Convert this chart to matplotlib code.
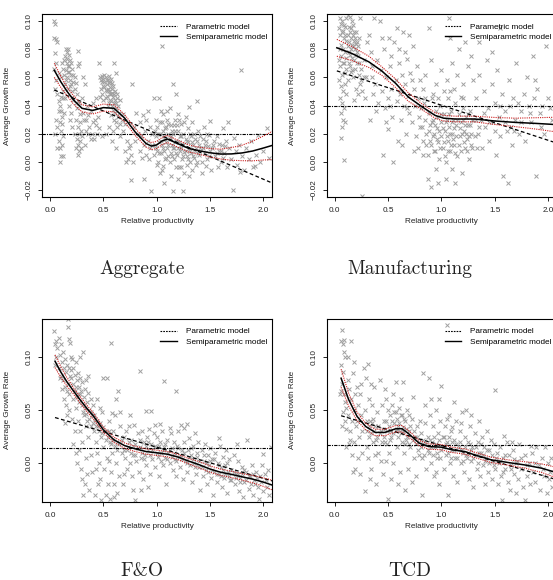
import matplotlib
matplotlib.use("Agg")
import matplotlib.pyplot as plt
from matplotlib.lines import Line2D

plt.rcParams['font.family'] = ['Liberation Sans', 'DejaVu Sans']

# ---------------- Aggregate ----------------
agg_points = [
    (0.04, 0.100), (0.05, 0.098), (0.04, 0.088), (0.06, 0.087), (0.07, 0.085), (0.05, 0.077), (0.06, 0.070),
    (0.04, 0.066), (0.08, 0.063), (0.06, 0.058), (0.05, 0.052), (0.07, 0.048), (0.08, 0.043), (0.09, 0.040),
    (0.10, 0.036), (0.08, 0.036), (0.11, 0.032), (0.09, 0.028), (0.07, 0.025), (0.10, 0.022), (0.12, 0.018),
    (0.08, 0.015), (0.11, 0.012), (0.09, 0.010), (0.10, 0.004), (0.09, 0.000), (0.12, 0.004), (0.11, 0.027),
    (0.13, 0.035), (0.12, 0.045), (0.14, 0.055), (0.10, 0.060), (0.12, 0.066), (0.13, 0.072), (0.11, 0.070),
    (0.06, 0.030), (0.05, 0.020), (0.07, 0.010),
    (0.15, 0.080), (0.16, 0.078), (0.17, 0.080), (0.18, 0.076), (0.16, 0.073), (0.19, 0.072), (0.17, 0.068),
    (0.20, 0.070), (0.15, 0.065), (0.18, 0.064), (0.21, 0.066), (0.16, 0.060), (0.19, 0.058), (0.22, 0.062),
    (0.20, 0.055), (0.23, 0.060), (0.17, 0.052), (0.21, 0.050), (0.24, 0.056), (0.26, 0.079), (0.27, 0.070),
    (0.26, 0.068), (0.25, 0.048), (0.22, 0.044), (0.27, 0.042), (0.25, 0.038), (0.28, 0.034), (0.24, 0.030),
    (0.26, 0.025), (0.27, 0.020), (0.25, 0.016), (0.26, 0.012), (0.27, 0.008), (0.26, 0.005), (0.24, 0.010),
    (0.28, 0.015), (0.23, 0.020), (0.29, 0.022), (0.20, 0.035), (0.18, 0.040), (0.14, 0.045), (0.21, 0.025),
    (0.19, 0.030),
    (0.14, 0.075), (0.16, 0.070), (0.18, 0.068), (0.20, 0.062), (0.22, 0.057), (0.13, 0.062), (0.15, 0.058),
    (0.17, 0.064), (0.19, 0.054), (0.23, 0.052), (0.21, 0.046), (0.24, 0.042), (0.12, 0.050), (0.10, 0.046),
    (0.28, 0.028), (0.29, 0.010), (0.30, 0.018), (0.31, 0.035), (0.34, 0.030), (0.36, 0.020),
    (0.31, 0.060), (0.33, 0.055), (0.35, 0.040), (0.32, 0.030), (0.36, 0.033), (0.38, 0.036), (0.34, 0.022),
    (0.37, 0.025), (0.40, 0.028), (0.42, 0.030), (0.39, 0.020), (0.41, 0.016), (0.44, 0.020), (0.43, 0.026),
    (0.45, 0.032), (0.43, 0.045), (0.40, 0.042), (0.38, 0.016), (0.30, 0.045), (0.33, 0.012),
    (0.46, 0.070), (0.47, 0.060), (0.48, 0.058), (0.49, 0.061), (0.50, 0.059), (0.51, 0.057), (0.52, 0.060),
    (0.53, 0.055), (0.54, 0.058), (0.55, 0.056), (0.56, 0.053), (0.57, 0.059), (0.58, 0.052), (0.60, 0.070),
    (0.62, 0.063), (0.50, 0.054), (0.52, 0.051), (0.55, 0.050), (0.57, 0.048), (0.59, 0.046), (0.61, 0.050),
    (0.63, 0.045), (0.48, 0.052), (0.53, 0.047), (0.56, 0.044), (0.60, 0.042), (0.64, 0.040), (0.66, 0.044),
    (0.62, 0.038), (0.58, 0.040), (0.50, 0.044), (0.47, 0.046), (0.54, 0.040), (0.65, 0.035), (0.67, 0.030),
    (0.60, 0.030), (0.55, 0.025), (0.52, 0.020), (0.58, 0.015), (0.62, 0.010), (0.49, 0.018), (0.46, 0.024),
    (0.57, 0.033), (0.63, 0.025), (0.68, 0.022), (0.70, 0.027), (0.66, 0.018), (0.59, 0.022),
    (0.49, 0.057), (0.51, 0.062), (0.53, 0.058), (0.55, 0.061), (0.56, 0.057), (0.58, 0.056), (0.59, 0.054),
    (0.51, 0.053), (0.53, 0.050), (0.54, 0.052), (0.56, 0.048), (0.58, 0.049), (0.60, 0.048), (0.61, 0.044),
    (0.62, 0.042), (0.63, 0.048), (0.57, 0.043), (0.55, 0.042), (0.52, 0.045), (0.49, 0.048), (0.59, 0.037),
    (0.61, 0.035), (0.64, 0.032), (0.66, 0.027), (0.68, 0.034), (0.62, 0.028),
    (0.72, 0.015), (0.74, 0.010), (0.70, 0.008), (0.76, 0.005), (0.73, 0.002), (0.78, 0.000), (0.75, 0.012),
    (0.80, 0.015), (0.82, 0.020), (0.79, 0.025), (0.84, 0.008), (0.86, 0.003), (0.88, 0.012), (0.85, 0.018),
    (0.89, 0.022), (0.87, 0.033), (0.90, 0.030), (0.84, 0.028), (0.77, 0.055), (0.76, -0.013), (0.88, -0.012),
    (0.81, 0.035), (0.71, 0.000), (0.90, 0.005), (0.92, 0.036), (0.92, 0.015), (0.94, 0.010), (0.93, 0.002),
    (0.95, -0.021), (0.97, 0.045), (1.02, 0.045), (1.05, 0.082), (0.94, 0.025), (0.96, 0.020),
    (0.97, 0.005), (0.98, 0.012), (0.99, 0.018), (1.00, 0.008), (1.00, 0.025), (1.01, 0.000), (1.02, 0.014),
    (1.03, 0.020), (1.04, 0.006), (1.05, 0.028), (1.05, 0.012), (1.06, -0.003), (1.07, 0.018), (1.07, 0.008),
    (1.08, 0.024), (1.09, 0.003), (1.09, 0.014), (1.10, 0.030), (1.10, 0.010), (1.11, 0.020), (1.12, 0.000),
    (1.12, 0.016), (1.13, 0.006), (1.13, 0.026), (1.14, 0.012), (1.15, 0.055), (1.15, 0.020), (1.16, 0.002),
    (1.16, 0.010), (1.17, 0.030), (1.18, 0.015), (1.18, 0.048), (1.19, 0.005), (1.20, 0.022), (1.20, 0.010),
    (1.21, -0.004), (1.22, 0.018), (1.22, 0.008), (1.23, 0.027), (1.24, 0.013), (1.24, 0.002), (1.25, 0.020),
    (1.26, 0.007), (1.26, -0.008), (1.27, 0.032), (1.28, 0.015), (1.28, 0.004), (1.29, 0.024), (1.30, 0.010),
    (1.30, 0.039), (1.31, 0.000), (1.32, 0.018), (1.32, 0.006), (1.33, 0.028), (1.34, 0.012), (1.35, 0.003),
    (1.35, 0.020), (1.36, 0.008), (1.37, -0.002), (1.38, 0.043), (1.38, 0.015), (1.39, 0.022), (1.40, 0.005),
    (1.40, 0.012), (1.41, 0.018), (1.42, 0.000), (1.43, 0.010), (1.44, 0.025), (1.45, 0.006), (1.46, 0.015),
    (1.47, 0.002), (1.48, 0.011), (1.49, 0.019), (1.50, 0.029), (1.50, 0.008), (1.51, -0.006), (1.07, -0.015),
    (1.15, -0.021), (1.25, -0.021), (1.20, -0.012), (1.30, -0.010), (1.03, -0.008), (1.13, -0.010),
    (1.23, -0.004), (1.33, -0.006), (1.42, -0.008), (0.99, 0.030), (1.04, 0.036), (1.12, 0.038),
    (1.00, -0.002), (1.11, 0.004), (1.06, 0.034),
    (0.99, 0.010), (1.01, 0.020), (1.02, 0.006), (1.03, 0.028), (1.04, 0.015), (1.06, 0.022), (1.06, 0.010),
    (1.08, 0.016), (1.08, 0.002), (1.09, 0.025), (1.11, 0.012), (1.11, 0.027), (1.13, 0.018), (1.14, 0.004),
    (1.14, 0.022), (1.15, 0.010), (1.17, 0.014), (1.17, 0.022), (1.18, 0.006), (1.19, 0.026), (1.21, 0.014),
    (1.21, 0.030), (1.23, 0.010), (1.23, 0.018), (1.25, 0.004), (1.25, 0.012), (1.27, 0.016), (1.27, 0.008),
    (1.29, 0.002), (1.29, 0.014), (1.31, 0.020), (1.31, 0.008), (1.33, 0.014), (1.34, 0.004), (1.36, 0.016),
    (1.37, 0.010), (1.39, 0.006), (1.41, 0.010), (1.43, 0.016), (1.45, 0.012), (1.47, 0.020), (1.49, 0.004),
    (1.52, 0.010), (1.54, 0.015), (1.56, 0.006), (1.58, 0.013), (1.60, 0.008), (1.62, 0.003), (1.64, 0.011),
    (1.10, 0.036), (1.16, 0.026), (1.20, 0.034), (1.26, 0.028), (1.05, -0.006), (1.18, -0.004),
    (1.28, -0.002), (1.38, 0.000), (1.46, -0.003), (0.98, 0.022), (0.96, 0.012),
    (1.53, 0.012), (1.55, 0.004), (1.56, 0.018), (1.58, 0.008), (1.60, 0.000), (1.61, 0.012), (1.62, 0.024),
    (1.63, 0.006), (1.65, 0.015), (1.66, -0.004), (1.68, 0.010), (1.70, 0.002), (1.71, -0.020), (1.72, 0.017),
    (1.74, 0.008), (1.75, -0.002), (1.77, 0.012), (1.79, 0.065), (1.80, 0.004), (1.82, -0.006), (1.84, 0.010),
    (1.86, 0.002), (1.88, 0.015), (1.90, -0.004), (1.93, 0.005), (1.95, 0.019), (1.97, 0.000), (2.00, 0.008),
    (2.03, 0.024), (2.05, 0.003), (1.78, -0.007), (1.92, -0.003), (1.67, 0.028), (1.57, -0.004),
]
agg_cx = [0.04, 0.10, 0.16, 0.22, 0.30, 0.40, 0.50, 0.60, 0.70, 0.80, 0.90, 0.95, 1.00, 1.05, 1.10, 1.20,
          1.30, 1.40, 1.50, 1.60, 1.70, 1.80, 1.90, 2.00, 2.08]
agg_fit = [0.065, 0.057, 0.050, 0.044, 0.038, 0.0365, 0.0385, 0.038, 0.031, 0.021, 0.013, 0.0112, 0.012,
           0.0148, 0.0162, 0.0128, 0.0095, 0.0078, 0.0064, 0.0055, 0.0056, 0.0063, 0.0077, 0.0098, 0.0116]
agg_up = [0.070, 0.061, 0.053, 0.047, 0.0405, 0.039, 0.041, 0.0405, 0.0335, 0.0235, 0.0155, 0.0137, 0.0145,
          0.0173, 0.0187, 0.0153, 0.012, 0.0103, 0.0094, 0.009, 0.0101, 0.0118, 0.0147, 0.0183, 0.0216]
agg_lo = [0.060, 0.053, 0.047, 0.041, 0.0355, 0.034, 0.036, 0.0355, 0.0285, 0.0185, 0.0105, 0.0087, 0.0095,
          0.0123, 0.0137, 0.0103, 0.007, 0.0053, 0.0034, 0.002, 0.0011, 0.0008, 0.0007, 0.0013, 0.0016]
agg_par_x = [0.04, 2.08]
agg_par_y = [0.051, -0.015]
agg_mean = 0.0195

# ---------------- Manufacturing ----------------
man_points = [
    (0.04, 0.095), (0.05, 0.090), (0.06, 0.098), (0.07, 0.100), (0.08, 0.093), (0.09, 0.088), (0.10, 0.096),
    (0.11, 0.102), (0.12, 0.090), (0.13, 0.085), (0.14, 0.092), (0.15, 0.088), (0.16, 0.083), (0.17, 0.090),
    (0.18, 0.086), (0.19, 0.080), (0.20, 0.084), (0.21, 0.078), (0.12, 0.104), (0.14, 0.103), (0.16, 0.100),
    (0.08, 0.080), (0.10, 0.078), (0.12, 0.082), (0.14, 0.076), (0.16, 0.074), (0.18, 0.072), (0.06, 0.075),
    (0.05, 0.068), (0.07, 0.062), (0.09, 0.070), (0.11, 0.066), (0.13, 0.070), (0.15, 0.064), (0.17, 0.060),
    (0.19, 0.066), (0.21, 0.070), (0.04, 0.058), (0.06, 0.054), (0.08, 0.050), (0.10, 0.055), (0.05, 0.045),
    (0.07, 0.042), (0.09, 0.038), (0.06, 0.035), (0.08, 0.030), (0.07, 0.025), (0.06, 0.017), (0.09, 0.001),
    (0.10, 0.028), (0.22, 0.075), (0.23, 0.062), (0.24, 0.055), (0.25, 0.058), (0.26, 0.050), (0.27, 0.072),
    (0.28, 0.045), (0.29, 0.060), (0.22, 0.048), (0.24, 0.102), (0.30, 0.085), (0.26, -0.024), (0.20, 0.052),
    (0.18, 0.044), (0.12, 0.058), (0.04, 0.072), (0.05, 0.080), (0.11, 0.048),
    (0.05, 0.102), (0.07, 0.092), (0.09, 0.097), (0.10, 0.090), (0.11, 0.086), (0.13, 0.096), (0.13, 0.078),
    (0.15, 0.080), (0.15, 0.095), (0.17, 0.082), (0.17, 0.097), (0.18, 0.092), (0.19, 0.088), (0.20, 0.092),
    (0.21, 0.085), (0.22, 0.082), (0.23, 0.088), (0.11, 0.074), (0.14, 0.068), (0.16, 0.065), (0.20, 0.076),
    (0.23, 0.070), (0.25, 0.066), (0.27, 0.060), (0.06, 0.083), (0.08, 0.070), (0.10, 0.063),
    (0.32, 0.090), (0.34, 0.078), (0.35, 0.060), (0.36, 0.048), (0.38, 0.055), (0.40, 0.072), (0.41, 0.042),
    (0.43, 0.065), (0.44, 0.050), (0.45, 0.005), (0.46, 0.080), (0.47, 0.038), (0.48, 0.060), (0.50, 0.045),
    (0.50, 0.023), (0.52, 0.068), (0.53, 0.052), (0.54, 0.032), (0.55, 0.000), (0.56, 0.085), (0.57, 0.058),
    (0.58, 0.043), (0.60, 0.070), (0.61, 0.048), (0.62, 0.030), (0.63, 0.062), (0.64, 0.092), (0.65, 0.040),
    (0.66, 0.055), (0.67, 0.020), (0.68, 0.073), (0.69, 0.047), (0.70, 0.035), (0.71, 0.063), (0.72, 0.028),
    (0.73, 0.082), (0.74, 0.052), (0.75, 0.040), (0.76, 0.018), (0.77, 0.068), (0.78, 0.045), (0.79, 0.032),
    (0.80, 0.058), (0.37, 0.102), (0.42, 0.100), (0.51, 0.088), (0.58, 0.095), (0.66, 0.078), (0.70, 0.090),
    (0.33, 0.030), (0.39, 0.036), (0.48, 0.028), (0.59, 0.015), (0.63, 0.012), (0.53, 0.075), (0.44, 0.088),
    (0.74, 0.008), (0.35, 0.068), (0.60, 0.080), (0.72, 0.058), (0.52, 0.040), (0.62, 0.050), (0.68, 0.038),
    (0.81, 0.038), (0.82, 0.025), (0.83, 0.015), (0.84, 0.042), (0.85, 0.030), (0.86, 0.020), (0.87, 0.005),
    (0.87, -0.012), (0.88, 0.035), (0.89, 0.026), (0.90, 0.012), (0.90, -0.018), (0.91, 0.045), (0.92, 0.030),
    (0.93, 0.020), (0.94, 0.008), (0.95, 0.036), (0.96, 0.024), (0.97, 0.014), (0.97, -0.015), (0.98, 0.002),
    (0.99, 0.040), (1.00, 0.028), (1.00, 0.018), (1.01, 0.010), (1.02, 0.034), (1.03, 0.022), (1.04, 0.000),
    (1.05, 0.030), (1.06, 0.015), (1.06, 0.045), (1.07, 0.025), (1.08, 0.008), (1.09, 0.036), (1.10, 0.020),
    (1.10, -0.005), (1.11, 0.030), (1.12, 0.012), (1.13, 0.042), (1.14, 0.026), (1.15, 0.004), (1.16, 0.034),
    (1.17, 0.018), (1.18, 0.028), (1.19, -0.008), (1.20, 0.038), (1.21, 0.022), (1.22, 0.010), (1.23, 0.032),
    (1.24, 0.016), (1.25, 0.026), (1.26, 0.002), (1.27, 0.036), (1.28, 0.020), (1.29, 0.010), (1.30, 0.030),
    (0.85, 0.062), (0.90, 0.072), (0.95, 0.055), (1.00, 0.065), (1.05, 0.058), (1.10, 0.070), (1.15, 0.062),
    (1.20, 0.055), (1.25, 0.068), (1.30, 0.058), (0.88, 0.095), (1.08, 0.088), (1.22, 0.085), (1.28, 0.075),
    (0.92, 0.048), (1.02, 0.050), (1.12, 0.052), (1.18, 0.046), (0.83, 0.052), (1.04, -0.012), (1.13, -0.015),
    (0.95, -0.005), (1.07, 0.102), (1.16, 0.080), (0.85, 0.045), (0.97, 0.045), (1.08, 0.050), (1.20, 0.045),
    (0.86, 0.012), (0.88, 0.022), (0.89, 0.015), (0.91, 0.028), (0.92, 0.018), (0.93, 0.008), (0.94, 0.026),
    (0.96, 0.016), (0.96, 0.032), (0.98, 0.022), (0.99, 0.010), (1.00, 0.034), (1.01, 0.024), (1.02, 0.014),
    (1.03, 0.004), (1.04, 0.028), (1.05, 0.018), (1.06, 0.008), (1.07, 0.034), (1.08, 0.020), (1.09, 0.012),
    (1.10, 0.028), (1.11, 0.016), (1.12, 0.024), (1.13, 0.006), (1.14, 0.018), (1.15, 0.030), (1.16, 0.012),
    (1.17, 0.024), (1.18, 0.008), (1.19, 0.020), (1.20, 0.030), (1.21, 0.014), (1.22, 0.026), (1.23, 0.020),
    (1.24, 0.008), (1.25, 0.034), (1.26, 0.018), (1.27, 0.026), (1.28, 0.012), (1.29, 0.030), (1.31, 0.018),
    (1.32, 0.030), (1.33, 0.010), (0.80, 0.025), (0.78, 0.010), (0.83, 0.005),
    (1.32, 0.045), (1.34, 0.020), (1.35, 0.062), (1.37, 0.030), (1.38, 0.010), (1.40, 0.050), (1.41, 0.025),
    (1.43, 0.072), (1.44, 0.038), (1.45, 0.015), (1.47, 0.055), (1.48, 0.028), (1.50, 0.042), (1.51, 0.005),
    (1.52, 0.065), (1.54, 0.032), (1.55, 0.018), (1.57, 0.048), (1.58, -0.010), (1.60, 0.036), (1.61, 0.022),
    (1.63, 0.058), (1.64, 0.040), (1.66, 0.012), (1.67, 0.045), (1.69, 0.030), (1.70, 0.070), (1.72, 0.042),
    (1.73, 0.020), (1.75, 0.036), (1.77, 0.048), (1.78, 0.015), (1.80, 0.060), (1.82, 0.040), (1.84, 0.028),
    (1.86, 0.075), (1.87, 0.045), (1.89, -0.010), (1.90, 0.052), (1.92, 0.035), (1.94, 0.040), (1.96, 0.020),
    (1.98, 0.082), (2.00, 0.045), (2.02, 0.038), (2.04, 0.030), (1.88, 0.058), (1.62, -0.015), (1.55, 0.095),
    (1.35, 0.085), (1.47, 0.078), (1.65, 0.025), (1.35, 0.025), (1.40, 0.035), (1.45, 0.028), (1.50, 0.022),
    (1.55, 0.040), (1.60, 0.028), (1.68, 0.022), (1.75, 0.028), (1.83, 0.035), (1.93, 0.025),
]
man_cx = [0.02, 0.16, 0.32, 0.44, 0.57, 0.69, 0.82, 0.94, 1.02, 1.13, 1.31, 1.50, 1.69, 1.88, 2.04, 2.08]
man_fit = [0.081, 0.077, 0.071, 0.0646, 0.0558, 0.046, 0.039, 0.033, 0.031, 0.0304, 0.0304, 0.029, 0.028,
           0.0273, 0.0266, 0.0264]
man_up = [0.087, 0.082, 0.075, 0.0676, 0.0588, 0.049, 0.041, 0.035, 0.033, 0.0324, 0.0324, 0.0315, 0.031,
          0.0313, 0.0316, 0.0317]
man_lo = [0.075, 0.072, 0.067, 0.0616, 0.0528, 0.043, 0.037, 0.031, 0.029, 0.0284, 0.0284, 0.0265, 0.025,
          0.0233, 0.0216, 0.0211]
man_par_x = [0.02, 2.08]
man_par_y = [0.0646, 0.0133]
man_mean = 0.040

# ---------------- F&O ----------------
fo_points = [
    (0.04, 0.124), (0.05, 0.112), (0.06, 0.115), (0.07, 0.108), (0.08, 0.118), (0.06, 0.100), (0.09, 0.102),
    (0.10, 0.112), (0.11, 0.095), (0.12, 0.105), (0.13, 0.090), (0.14, 0.098), (0.15, 0.086), (0.16, 0.092),
    (0.17, 0.128), (0.17, 0.136), (0.18, 0.117), (0.19, 0.113), (0.20, 0.100), (0.08, 0.090), (0.10, 0.082),
    (0.12, 0.078), (0.14, 0.072), (0.16, 0.068), (0.18, 0.065), (0.13, 0.060), (0.15, 0.055), (0.11, 0.070),
    (0.09, 0.080), (0.19, 0.082), (0.17, 0.075), (0.05, 0.092), (0.16, 0.045), (0.14, 0.038), (0.18, 0.050),
    (0.20, 0.088), (0.18, 0.090), (0.20, 0.080),
    (0.21, 0.098), (0.22, 0.090), (0.23, 0.083), (0.24, 0.095), (0.25, 0.078), (0.26, 0.085), (0.27, 0.072),
    (0.28, 0.080), (0.29, 0.068), (0.30, 0.076), (0.31, 0.105), (0.32, 0.062), (0.33, 0.070), (0.34, 0.078),
    (0.35, 0.058), (0.36, 0.066), (0.37, 0.050), (0.38, 0.060), (0.39, 0.045), (0.40, 0.055), (0.22, 0.060),
    (0.24, 0.052), (0.26, 0.040), (0.28, 0.030), (0.30, 0.020), (0.32, 0.045), (0.34, 0.035), (0.36, 0.025),
    (0.38, 0.035), (0.22, 0.018), (0.24, 0.010), (0.25, 0.000), (0.27, 0.012), (0.29, -0.005), (0.30, -0.015),
    (0.31, -0.030), (0.33, -0.020), (0.34, 0.005), (0.35, -0.010), (0.37, -0.025), (0.38, 0.008),
    (0.39, -0.008), (0.23, 0.030), (0.26, 0.065), (0.21, 0.042), (0.28, 0.100), (0.36, 0.082),
    (0.22, 0.075), (0.23, 0.068), (0.24, 0.072), (0.25, 0.062), (0.27, 0.058), (0.28, 0.065), (0.30, 0.055),
    (0.31, 0.048), (0.33, 0.052), (0.34, 0.046), (0.35, 0.040), (0.37, 0.042), (0.38, 0.048), (0.40, 0.038),
    (0.41, 0.045), (0.43, 0.035), (0.44, 0.040), (0.46, 0.030), (0.47, 0.038), (0.49, 0.028), (0.50, 0.034),
    (0.52, 0.022), (0.54, 0.025), (0.55, 0.030), (0.57, 0.018), (0.59, 0.022), (0.61, 0.016), (0.63, 0.012),
    (0.65, 0.018), (0.67, 0.022), (0.69, 0.012),
    (0.41, 0.030), (0.42, 0.042), (0.43, 0.020), (0.44, 0.010), (0.45, 0.035), (0.46, 0.000), (0.47, -0.015),
    (0.48, 0.025), (0.49, 0.048), (0.50, 0.080), (0.50, 0.015), (0.51, -0.005), (0.52, 0.030), (0.53, 0.080),
    (0.53, 0.005), (0.54, -0.020), (0.55, 0.040), (0.56, 0.020), (0.57, 0.113), (0.57, -0.008), (0.58, 0.010),
    (0.59, 0.030), (0.60, -0.020), (0.61, 0.045), (0.62, 0.000), (0.63, 0.020), (0.64, 0.068), (0.65, -0.012),
    (0.66, 0.035), (0.67, 0.010), (0.68, -0.020), (0.69, 0.025), (0.70, 0.005), (0.42, -0.030), (0.45, -0.020),
    (0.48, -0.035), (0.52, -0.030), (0.56, -0.034), (0.60, -0.032), (0.44, 0.060), (0.47, 0.052),
    (0.62, 0.060), (0.66, 0.048), (0.58, 0.047), (0.43, -0.005), (0.69, -0.010), (0.55, 0.002), (0.63, -0.028),
    (0.71, 0.030), (0.72, -0.005), (0.73, 0.015), (0.74, 0.035), (0.75, 0.000), (0.76, 0.022), (0.77, -0.012),
    (0.78, 0.008), (0.79, 0.036), (0.80, -0.035), (0.80, 0.018), (0.81, 0.002), (0.82, 0.028), (0.83, -0.008),
    (0.84, 0.087), (0.84, 0.015), (0.85, 0.005), (0.86, 0.030), (0.87, -0.015), (0.88, 0.020), (0.89, 0.008),
    (0.90, 0.049), (0.90, -0.002), (0.91, 0.025), (0.92, 0.012), (0.93, 0.032), (0.94, -0.010), (0.95, 0.049),
    (0.95, 0.018), (0.96, 0.004), (0.97, 0.028), (0.98, -0.004), (0.99, 0.015), (1.00, 0.025), (1.01, 0.006),
    (1.02, -0.012), (1.03, 0.020), (1.04, 0.010), (1.05, 0.030), (1.06, -0.002), (1.07, 0.077), (1.07, 0.015),
    (1.08, 0.005), (1.09, -0.020), (1.10, 0.022), (1.11, 0.010), (1.12, 0.000), (1.13, 0.028), (1.14, 0.014),
    (1.15, -0.006), (1.16, 0.020), (1.17, 0.004), (1.18, 0.068), (1.18, -0.012), (1.19, 0.016), (1.20, 0.030),
    (1.21, 0.006), (1.22, -0.004), (1.23, 0.036), (1.24, 0.012), (1.25, -0.015), (1.26, 0.020), (1.27, 0.002),
    (1.28, 0.037), (1.28, -0.008), (1.29, 0.012), (1.30, 0.024), (1.31, -0.002), (1.32, 0.008), (1.33, -0.018),
    (1.34, 0.016), (1.35, 0.000), (1.36, 0.028), (1.37, -0.010), (1.38, 0.006), (1.39, 0.020), (1.40, -0.004),
    (1.41, -0.025), (1.42, 0.012), (1.43, -0.012), (1.44, 0.002), (1.45, 0.018), (1.46, -0.006),
    (1.47, -0.020), (1.48, 0.008), (1.49, -0.002), (1.50, 0.014), (1.51, -0.014), (1.52, 0.004),
    (1.53, -0.030), (1.54, -0.008), (1.55, 0.010), (1.56, -0.018), (1.57, 0.000), (1.58, -0.010),
    (1.59, 0.016), (1.60, -0.004), (1.61, -0.022), (1.62, 0.006), (1.63, -0.014), (1.64, -0.002),
    (1.65, 0.012), (1.66, -0.028), (1.67, -0.008), (1.68, 0.004), (1.69, -0.016), (1.70, -0.006),
    (1.72, 0.008), (1.73, -0.020), (1.74, -0.010), (1.76, 0.002), (1.77, -0.026), (1.78, -0.014),
    (1.80, -0.004), (1.81, -0.032), (1.82, -0.018), (1.84, -0.008), (1.85, 0.022), (1.86, -0.024),
    (1.87, -0.012), (1.89, -0.002), (1.90, -0.030), (1.91, -0.016), (1.93, -0.008), (1.95, -0.022),
    (1.96, -0.034), (1.97, -0.012), (1.99, -0.002), (2.00, 0.009), (2.00, -0.026), (2.02, -0.016),
    (2.04, -0.006), (2.05, -0.030), (2.07, 0.015), (0.98, 0.036), (1.03, 0.037), (1.12, 0.033), (0.75, 0.045),
    (0.85, -0.025), (0.92, -0.022), (1.26, 0.033), (1.75, 0.018), (1.58, 0.024), (0.78, -0.025),
    (0.72, 0.012), (0.74, 0.020), (0.76, 0.010), (0.78, 0.016), (0.80, 0.008), (0.82, 0.014), (0.84, 0.022),
    (0.86, 0.010), (0.88, 0.004), (0.90, 0.016), (0.92, 0.020), (0.94, 0.008), (0.96, 0.012), (0.98, 0.016),
    (1.00, 0.010), (1.02, 0.016), (1.04, 0.002), (1.06, 0.012), (1.08, 0.018), (1.10, 0.004), (1.12, 0.012),
    (1.14, 0.006), (1.16, 0.010), (1.18, 0.002), (1.20, 0.014), (1.22, 0.008), (1.24, 0.004), (1.26, 0.010),
    (1.28, 0.000), (1.30, 0.006), (1.32, 0.014), (1.34, 0.004), (1.36, -0.004), (1.38, 0.010), (1.40, 0.002),
    (1.42, -0.004), (1.44, 0.008), (1.46, 0.000), (1.48, -0.008), (1.50, 0.002), (1.52, -0.006), (1.54, 0.004),
    (1.56, -0.010), (1.58, -0.002), (1.60, -0.012), (1.62, -0.006), (1.64, -0.010), (1.66, 0.000),
    (1.68, -0.012), (1.70, -0.016), (1.72, -0.008), (1.74, -0.014), (1.76, -0.010), (1.78, -0.018),
    (1.80, -0.010), (1.82, -0.006), (1.84, -0.016), (1.86, -0.012), (1.88, -0.020), (1.90, -0.010),
    (1.92, -0.020), (1.94, -0.014), (1.98, -0.018), (2.01, -0.010), (2.03, -0.022),
]
fo_cx = [0.047, 0.10, 0.156, 0.22, 0.28, 0.35, 0.41, 0.50, 0.60, 0.70, 0.80, 0.90, 1.00, 1.10, 1.20, 1.30,
         1.40, 1.50, 1.60, 1.70, 1.80, 1.90, 2.00, 2.08]
fo_fit = [0.096, 0.086, 0.077, 0.068, 0.060, 0.051, 0.044, 0.0314, 0.022, 0.0165, 0.0135, 0.011, 0.0098,
          0.0085, 0.0058, 0.002, -0.0015, -0.0055, -0.0085, -0.0105, -0.0128, -0.015, -0.0178, -0.0205]
fo_up = [0.102, 0.091, 0.081, 0.071, 0.063, 0.054, 0.047, 0.0339, 0.0245, 0.019, 0.016, 0.0135, 0.0123,
         0.011, 0.0083, 0.0045, 0.0015, -0.0025, -0.0055, -0.0075, -0.0098, -0.0115, -0.0138, -0.016]
fo_lo = [0.090, 0.081, 0.073, 0.065, 0.057, 0.048, 0.041, 0.0289, 0.0195, 0.014, 0.011, 0.0085, 0.0073,
         0.006, 0.0033, -0.0005, -0.0045, -0.0085, -0.0115, -0.0135, -0.0158, -0.0185, -0.0218, -0.025]
fo_par_x = [0.047, 2.08]
fo_par_y = [0.043, -0.0166]
fo_mean = 0.0148

# ---------------- TCD ----------------
tcd_points = [
    (0.06, 0.092), (0.07, 0.125), (0.06, 0.115), (0.08, 0.112), (0.09, 0.116), (0.09, 0.105), (0.10, 0.100),
    (0.08, 0.086), (0.07, 0.075), (0.06, 0.068), (0.09, 0.065), (0.10, 0.058), (0.11, 0.052), (0.08, 0.048),
    (0.10, 0.040), (0.12, 0.045), (0.07, 0.035), (0.11, 0.032), (0.12, 0.078), (0.13, 0.070), (0.14, 0.022),
    (0.15, 0.115), (0.14, 0.030), (0.13, 0.018), (0.15, 0.060), (0.16, 0.040), (0.17, 0.085), (0.18, 0.095),
    (0.16, 0.008), (0.17, -0.008), (0.18, 0.050), (0.19, 0.065), (0.20, 0.035), (0.19, -0.005), (0.12, 0.100),
    (0.05, 0.065), (0.11, 0.015), (0.18, 0.020),
    (0.21, 0.072), (0.22, 0.055), (0.23, 0.025), (0.24, 0.065), (0.25, 0.045), (0.26, 0.010), (0.27, 0.090),
    (0.28, -0.026), (0.28, 0.050), (0.29, 0.080), (0.30, 0.030), (0.31, 0.093), (0.31, 0.005), (0.32, 0.060),
    (0.33, 0.040), (0.34, -0.005), (0.35, 0.055), (0.36, 0.020), (0.37, 0.072), (0.38, 0.035), (0.39, -0.020),
    (0.40, 0.048), (0.41, 0.010), (0.42, 0.078), (0.43, 0.030), (0.44, 0.055), (0.45, -0.010), (0.22, 0.005),
    (0.24, -0.010), (0.26, 0.030), (0.30, 0.015), (0.33, -0.015), (0.36, 0.042), (0.40, 0.025), (0.43, 0.002),
    (0.25, 0.075), (0.34, 0.075), (0.21, 0.040), (0.38, 0.008), (0.32, 0.025),
    (0.30, 0.040), (0.32, 0.035), (0.34, 0.028), (0.35, 0.038), (0.37, 0.030), (0.39, 0.022), (0.41, 0.035),
    (0.42, 0.028), (0.44, 0.020), (0.45, 0.032), (0.46, 0.025), (0.48, 0.040), (0.49, 0.018), (0.51, 0.035),
    (0.52, 0.022), (0.54, 0.040), (0.55, 0.028), (0.56, 0.048), (0.57, 0.030), (0.58, 0.042), (0.59, 0.025),
    (0.60, 0.038), (0.61, 0.030), (0.62, 0.045), (0.63, 0.020), (0.64, 0.030), (0.65, 0.042), (0.66, 0.018),
    (0.67, 0.032), (0.68, 0.025), (0.70, 0.018), (0.71, 0.035), (0.73, 0.022), (0.74, 0.030), (0.76, 0.018),
    (0.77, 0.025), (0.79, 0.008),
    (0.46, 0.040), (0.47, 0.020), (0.48, 0.060), (0.49, 0.030), (0.50, -0.034), (0.50, 0.050), (0.51, 0.010),
    (0.52, 0.045), (0.53, 0.025), (0.54, 0.055), (0.55, 0.000), (0.56, 0.038), (0.57, 0.076), (0.57, 0.048),
    (0.58, 0.015), (0.59, 0.035), (0.60, 0.052), (0.61, -0.008), (0.62, 0.028), (0.63, 0.045), (0.64, 0.076),
    (0.65, 0.010), (0.66, 0.040), (0.67, 0.022), (0.68, 0.050), (0.69, -0.005), (0.70, 0.030), (0.71, 0.015),
    (0.72, 0.042), (0.73, 0.062), (0.74, 0.005), (0.75, 0.025), (0.76, -0.012), (0.77, 0.035), (0.78, 0.012),
    (0.79, 0.020), (0.80, 0.040), (0.48, 0.002), (0.53, -0.015), (0.59, -0.020), (0.66, -0.025),
    (0.72, -0.018), (0.55, 0.065), (0.62, 0.060), (0.47, 0.070), (0.52, 0.030), (0.58, 0.032), (0.64, 0.034),
    (0.70, 0.045),
    (0.81, 0.028), (0.82, -0.030), (0.82, 0.005), (0.83, 0.085), (0.84, 0.018), (0.85, 0.038), (0.86, -0.005),
    (0.87, 0.025), (0.88, 0.080), (0.88, 0.010), (0.89, 0.045), (0.90, 0.000), (0.91, 0.020), (0.92, 0.035),
    (0.93, -0.012), (0.94, 0.015), (0.95, 0.050), (0.96, 0.005), (0.97, 0.028), (0.98, -0.020), (0.99, 0.040),
    (1.00, 0.073), (1.00, 0.012), (1.01, 0.025), (1.02, -0.005), (1.03, 0.035), (1.04, 0.008), (1.05, 0.130),
    (1.05, 0.020), (1.06, -0.030), (1.07, 0.045), (1.08, 0.000), (1.09, 0.030), (1.10, 0.012), (1.11, -0.012),
    (1.12, 0.058), (1.12, 0.022), (1.13, 0.005), (1.14, 0.040), (1.15, -0.018), (1.16, 0.015), (1.17, 0.030),
    (1.18, 0.000), (1.19, 0.048), (1.20, 0.010), (1.21, -0.008), (1.22, 0.025), (1.23, 0.050), (1.24, 0.005),
    (1.25, 0.020), (1.26, -0.015), (1.27, 0.035), (1.28, 0.002), (1.29, 0.015), (1.30, -0.022), (1.31, 0.028),
    (1.32, 0.008), (1.33, -0.005), (1.34, 0.020), (1.35, 0.040), (1.36, -0.012), (1.37, 0.010), (1.38, 0.025),
    (1.39, -0.002), (1.40, 0.015), (1.41, -0.020), (1.42, 0.005), (1.43, 0.030), (1.44, -0.008), (1.45, 0.012),
    (1.46, 0.022), (1.47, -0.015), (1.48, 0.002), (1.49, 0.018), (1.50, 0.069), (1.50, -0.005), (0.85, 0.055),
    (0.95, -0.008), (1.05, 0.042), (1.18, 0.038), (1.28, 0.045), (1.10, 0.034), (0.90, 0.060), (0.98, 0.060),
    (0.81, 0.015), (0.83, 0.022), (0.84, 0.008), (0.86, 0.018), (0.87, 0.012), (0.89, 0.022), (0.90, 0.015),
    (0.92, 0.008), (0.93, 0.025), (0.95, 0.018), (0.96, 0.010), (0.98, 0.022), (0.99, 0.005), (1.01, 0.015),
    (1.02, 0.025), (1.04, 0.018), (1.06, 0.010), (1.07, 0.025), (1.09, 0.005), (1.10, 0.020), (1.12, 0.012),
    (1.14, 0.018), (1.15, 0.005), (1.17, 0.020), (1.18, 0.012), (1.20, 0.002), (1.22, 0.015), (1.23, 0.008),
    (1.25, 0.010), (1.27, 0.018), (1.28, 0.012), (1.30, 0.005), (1.32, 0.015), (1.34, 0.000), (1.35, 0.010),
    (1.37, 0.018), (1.39, 0.008), (1.41, 0.002), (1.43, 0.012), (1.45, 0.000), (1.47, 0.008), (1.49, -0.002),
    (1.52, 0.010), (1.53, -0.020), (1.54, 0.000), (1.55, 0.015), (1.56, -0.012), (1.57, -0.035), (1.58, 0.005),
    (1.60, -0.005), (1.61, 0.020), (1.62, -0.018), (1.63, 0.008), (1.64, -0.025), (1.65, -0.002), (1.67, 0.012),
    (1.68, -0.010), (1.70, -0.028), (1.71, 0.002), (1.72, -0.015), (1.73, 0.018), (1.75, -0.005),
    (1.76, -0.022), (1.78, -0.035), (1.78, 0.008), (1.80, -0.012), (1.82, 0.000), (1.83, -0.020), (1.85, 0.010),
    (1.86, -0.008), (1.88, -0.018), (1.89, 0.015), (1.91, -0.002), (1.92, -0.025), (1.94, 0.005),
    (1.96, -0.012), (1.97, 0.015), (1.99, -0.028), (2.00, 0.000), (2.01, -0.015), (2.03, 0.005),
    (2.04, -0.022), (1.59, 0.026), (1.66, 0.020), (1.84, 0.016), (1.51, 0.005), (1.55, 0.002), (1.60, 0.008),
    (1.65, -0.005), (1.70, 0.000), (1.75, 0.005), (1.80, -0.002), (1.88, 0.000), (1.95, -0.005),
    (2.02, -0.008), (1.58, -0.008), (1.68, 0.004),
]
tcd_cx = [0.06, 0.13, 0.21, 0.29, 0.38, 0.47, 0.57, 0.63, 0.69, 0.79, 0.88, 1.00, 1.10, 1.22, 1.31, 1.47,
          1.63, 1.78, 1.94, 2.08]
tcd_fit = [0.080, 0.060, 0.044, 0.0346, 0.029, 0.029, 0.0324, 0.0325, 0.028, 0.019, 0.0157, 0.0151, 0.0126,
           0.011, 0.0079, 0.0031, 0.0006, -0.0016, -0.0047, -0.0089]
tcd_up = [0.0885, 0.066, 0.048, 0.0376, 0.032, 0.032, 0.0354, 0.0355, 0.031, 0.0215, 0.0182, 0.0176, 0.0151,
          0.0135, 0.0104, 0.0056, 0.0031, 0.0014, -0.0007, -0.0039]
tcd_lo = [0.0715, 0.054, 0.040, 0.0316, 0.026, 0.026, 0.0294, 0.0295, 0.025, 0.0165, 0.0132, 0.0126, 0.0101,
          0.0085, 0.0054, 0.0006, -0.0019, -0.0046, -0.0087, -0.0139]
tcd_par_x = [0.06, 2.08]
tcd_par_y = [0.0447, -0.0155]
tcd_mean = 0.0167

x_ticks = [0.0, 0.5, 1.0, 1.5, 2.0]
x_ticklabels = ["0.0", "0.5", "1.0", "1.5", "2.0"]
y_ticks_top = [-0.02, 0.00, 0.02, 0.04, 0.06, 0.08, 0.10]
y_ticklabels_top = ["\u22120.02", "0.00", "0.02", "0.04", "0.06", "0.08", "0.10"]
y_ticks_bot = [0.00, 0.05, 0.10]
y_ticklabels_bot = ["0.00", "0.05", "0.10"]
titles = ["Aggregate", "Manufacturing", "F&O", "TCD"]

W, H = 553, 580
FS = 5.9
GREY = '#a0a0a0'
RED = '#cc2020'


def draw_panel(rect, pts, cx, fit, up, lo, par_x, par_y, mean, ylim, yticks, ylabels):
    ax = fig.add_axes(rect)
    xs, ys = zip(*pts)
    ax.plot(xs, ys, 'x', color=GREY, ms=3.2, mew=0.7)
    ax.axhline(mean, color='black', lw=0.8, ls=(0, (3, 1, 1, 1)))
    ax.plot(par_x, par_y, color='black', lw=0.9, ls=(0, (3, 2)))
    ax.plot(cx, up, color=RED, lw=0.8, ls=(0, (1, 1)))
    ax.plot(cx, lo, color=RED, lw=0.8, ls=(0, (1, 1)))
    ax.plot(cx, fit, color='black', lw=1.1)
    ax.set_xlim(-0.075, 2.08)
    ax.set_ylim(*ylim)
    ax.set_xticks(x_ticks)
    ax.set_xticklabels(x_ticklabels)
    ax.set_yticks(yticks)
    ax.set_yticklabels(ylabels, rotation=90, va='center')
    ax.tick_params(direction='out', length=3, width=0.7, labelsize=FS, colors='#222222')
    ax.tick_params(axis='x', pad=4.5)
    ax.tick_params(axis='y', pad=3.5)
    for s in ax.spines.values():
        s.set_linewidth(0.8)
    ax.set_xlabel("Relative productivity", fontsize=FS, color='#222222')
    ax.set_ylabel("Average Growth Rate", fontsize=FS, color='#222222')
    ax.xaxis.set_label_coords(0.5, -0.115)
    ax.yaxis.set_label_coords(-0.135, 0.5)
    handles = [Line2D([], [], color='black', lw=0.8, ls=(0, (1.5, 1))),
               Line2D([], [], color='black', lw=1.0)]
    ax.legend(handles, ["Parametric model", "Semiparametric model"], loc='upper left',
              bbox_to_anchor=(0.475, 1.0), frameon=False, fontsize=FS, handlelength=2.0,
              handletextpad=1.1, labelspacing=0.35, borderpad=1.1, borderaxespad=0)
    return ax


fig = plt.figure(figsize=(W / 100, H / 100), dpi=100)

top_ylim = (-0.025, 0.105)
bot_ylim = (-0.0362, 0.136)
w = 230 / W
h = 183 / H
draw_panel([42 / W, 1 - 197 / H, w, h], agg_points, agg_cx, agg_fit, agg_up, agg_lo,
           agg_par_x, agg_par_y, agg_mean, top_ylim, y_ticks_top, y_ticklabels_top)
draw_panel([326.7 / W, 1 - 197 / H, w, h], man_points, man_cx, man_fit, man_up, man_lo,
           man_par_x, man_par_y, man_mean, top_ylim, y_ticks_top, y_ticklabels_top)
draw_panel([42 / W, 1 - 501.7 / H, w, h], fo_points, fo_cx, fo_fit, fo_up, fo_lo,
           fo_par_x, fo_par_y, fo_mean, bot_ylim, y_ticks_bot, y_ticklabels_bot)
draw_panel([326.7 / W, 1 - 501.7 / H, w, h], tcd_points, tcd_cx, tcd_fit, tcd_up, tcd_lo,
           tcd_par_x, tcd_par_y, tcd_mean, bot_ylim, y_ticks_bot, y_ticklabels_bot)

title_pos = [(142, 274.5), (410, 274.5), (142, 576), (410, 576)]
for t, (tx, ty) in zip(titles, title_pos):
    fig.text(tx / W, 1 - ty / H, t, family='cmr10', fontsize=14, ha='center', va='baseline',
             color='#222222')

fig.savefig('out.png', dpi=100)
